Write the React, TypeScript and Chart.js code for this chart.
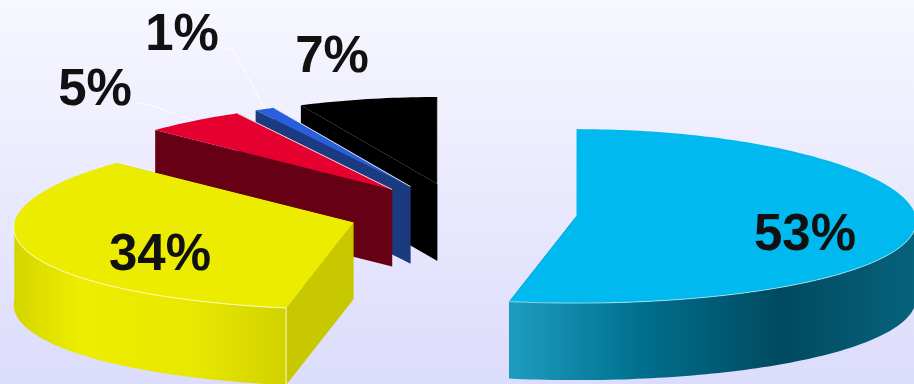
import React, { useEffect, useRef } from "react";
import { Chart, registerables } from "chart.js";

Chart.register(...registerables);

// Shares in percent, clockwise from twelve o'clock.
const categories = ["A", "B", "C", "D", "E"];
const shares = [53, 34, 5, 1, 7];

const topColors = ["#00b9ee", "#ecec00", "#e60030", "#2a5fdc", "#000000"];
const sideColors = ["#004a60", "#c8c800", "#660014", "#1c3a80", "#000000"];
const edgeColors = [
  "rgba(255,255,255,0.55)",
  "rgba(255,255,220,0.85)",
  "rgba(255,255,255,0.85)",
  "rgba(255,255,255,0.85)",
  "rgba(200,200,190,0.8)",
];
const rimStops: [number, string][][] = [
  [[510, "#1e9cc0"], [640, "#00708e"], [780, "#004a60"], [914, "#06627c"]],
  [[13, "#d4d400"], [80, "#eded00"], [190, "#e8e800"], [285, "#d2d200"]],
  [[0, "#660014"], [914, "#660014"]],
  [[0, "#1c3a80"], [914, "#1c3a80"]],
  [[0, "#000000"], [914, "#000000"]],
];

// Back-to-front paint order of the slices.
const paintOrder = [4, 3, 2, 1, 0];

// Label spots; the two small callouts also get an elbow leader.
const labelSpots = [
  { x: 805, y: 236 },
  { x: 160, y: 256 },
  { x: 95, y: 91 },
  { x: 182, y: 36 },
  { x: 332, y: 58 },
];
const leaderElbows: Record<number, [number, number][]> = {
  2: [[137, 103], [150, 105]],
  3: [[225, 49], [233, 49]],
};

// Oblique view of the exploded pie.
const SCENE = {
  dx: 5.4,
  dy: 21.3,
  radiusX: 339,
  radiusY: 87,
  depth: 77,
  flare: 0.06,
  explodeX: 0.98,
};
const EXPLODE_OFFSET = 56.5;

type Pt = [number, number];

const pie3d = {
  id: "pie3d",
  beforeDatasetDraw(chart: Chart) {
    const ctx = chart.ctx;
    const arcs = chart.getDatasetMeta(0).data as any[];

    const geometry = (arc: any) => {
      const p = arc.getProps(["x", "y", "startAngle", "endAngle", "outerRadius"], true);
      const mid = (p.startAngle + p.endAngle) / 2;
      const shift = (arc.options.offset || 0) / p.outerRadius;
      const ax = p.x + SCENE.dx + Math.cos(mid) * shift * SCENE.radiusX * SCENE.explodeX;
      const ay = p.y + SCENE.dy + Math.sin(mid) * shift * SCENE.radiusY;
      const at = (angle: number): Pt => {
        const ux = Math.cos(angle);
        const uy = Math.sin(angle);
        return [ax + ux * SCENE.radiusX * (1 + SCENE.flare * uy), ay + uy * SCENE.radiusY];
      };
      const rim: Pt[] = [];
      const steps = Math.max(2, Math.ceil((p.endAngle - p.startAngle) / 0.02));
      for (let i = 0; i <= steps; i++) {
        rim.push(at(p.startAngle + ((p.endAngle - p.startAngle) * i) / steps));
      }
      return { apex: [ax, ay] as Pt, rim, midPoint: at(mid) };
    };

    const trace = (pts: Pt[], close = true) => {
      ctx.beginPath();
      pts.forEach(([x, y], i) => (i ? ctx.lineTo(x, y) : ctx.moveTo(x, y)));
      if (close) ctx.closePath();
    };
    const drop = (pts: Pt[]): Pt[] => pts.map(([x, y]) => [x, y + SCENE.depth]);

    ctx.save();
    ctx.lineJoin = "round";
    paintOrder.forEach((i) => {
      const { apex, rim } = geometry(arcs[i]);
      const first = rim[0];
      const last = rim[rim.length - 1];
      // Only the half of the rim nearer the viewer shows its outer face.
      const front = rim.filter(([, y]) => y >= apex[1]);

      // Flat faces running from the rim to the apex.
      ctx.fillStyle = sideColors[i];
      trace([last, apex, ...drop([apex, last])]);
      ctx.fill();
      trace([first, apex, ...drop([apex, first])]);
      ctx.fill();

      // Curved outer face.
      if (front.length > 1) {
        const shade = ctx.createLinearGradient(0, 0, 914, 0);
        rimStops[i].forEach(([x, c]) => shade.addColorStop(x / 914, c));
        ctx.fillStyle = shade;
        trace([...front, ...drop(front).reverse()]);
        ctx.fill();
      }

      // Top face.
      ctx.fillStyle = topColors[i];
      trace([apex, ...rim]);
      ctx.fill();

      // Thin highlights along the visible edges.
      ctx.strokeStyle = edgeColors[i];
      ctx.lineWidth = 1;
      if (front.length > 1) {
        trace(front, false);
        ctx.stroke();
        if (i === 1) {
          trace([first, [first[0], first[1] + SCENE.depth]], false);
          ctx.stroke();
        }
      } else {
        trace([last, apex], false);
        ctx.stroke();
      }
    });

    // Leader lines from the small slices to their callouts.
    ctx.strokeStyle = "rgba(255,255,255,0.9)";
    ctx.lineWidth = 1;
    Object.keys(leaderElbows).forEach((key) => {
      const i = Number(key);
      trace([...leaderElbows[i], geometry(arcs[i]).midPoint], false);
      ctx.stroke();
    });

    // Percentages.
    ctx.fillStyle = "#111111";
    ctx.font = "bold 51px 'Liberation Sans', Arial, sans-serif";
    ctx.textAlign = "center";
    ctx.textBaseline = "middle";
    shares.forEach((v, i) => ctx.fillText(`${v}%`, labelSpots[i].x, labelSpots[i].y));
    ctx.restore();
    return false;
  },
};

export default function App() {
  const ref = useRef<HTMLCanvasElement>(null);

  useEffect(() => {
    document.body.style.margin = "0";
    const chart = new Chart(ref.current!, {
      type: "pie",
      data: {
        labels: categories,
        datasets: [
          {
            data: shares,
            backgroundColor: topColors,
            borderWidth: 0,
            offset: EXPLODE_OFFSET,
          },
        ],
      },
      options: {
        responsive: false,
        animation: false,
        layout: { padding: 0 },
        plugins: { legend: { display: false }, tooltip: { enabled: false } },
      },
      plugins: [pie3d],
    } as any);
    return () => chart.destroy();
  }, []);

  return (
    <div
      style={{
        width: 914,
        height: 384,
        overflow: "hidden",
        background: "linear-gradient(180deg, #f7f7ff 0%, #dcdcfc 100%)",
      }}
    >
      <canvas ref={ref} width={914} height={384} style={{ display: "block" }} />
    </div>
  );
}
